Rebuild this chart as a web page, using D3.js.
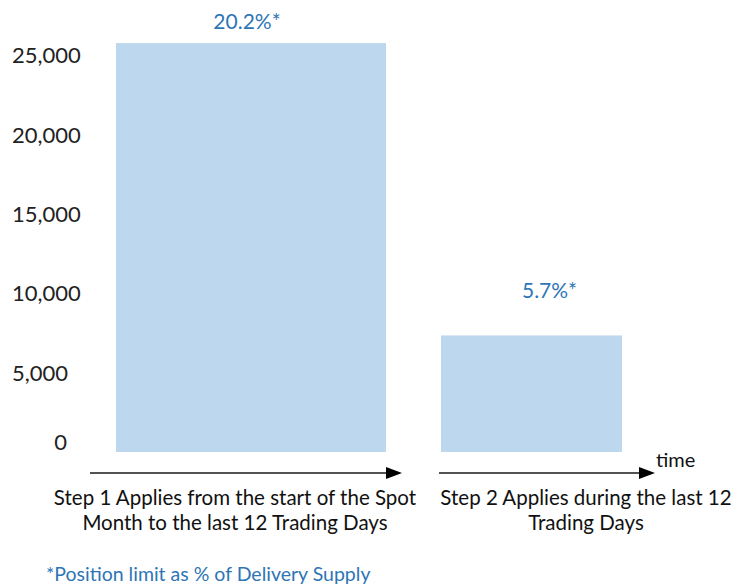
<!DOCTYPE html>
<html>
<head>
<meta charset="utf-8">
<script src="https://cdn.jsdelivr.net/npm/d3@7"></script>
<style>
  html, body { margin: 0; padding: 0; background: #fff; }
  svg { display: block; }
  text { font-family: Lato, "Open Sans", sans-serif; }
</style>
</head>
<body>
<div id="chart"></div>
<script>
// ---- data ----
const categories = [
  ["Step 1 Applies from the start of the Spot", "Month to the last 12 Trading Days"],
  ["Step 2 Applies during the last 12", "Trading Days"]
];
const values = [25750, 7340];
const pctLabels = ["20.2%*", "5.7%*"];
const yTicks = [0, 5000, 10000, 15000, 20000, 25000];
const footnote = "*Position limit as % of Delivery Supply";
const timeLabel = "time";

// ---- layout ----
const W = 736, H = 585;
const barSpans = [[116, 386], [441, 622]];      // pixel extents of bars (time segments)
const arrowSpans = [[90, 402], [439, 655]];
const arrowY = 473;
const catCenters = [235, 586];
const pctOffsets = [{dx: -4, dy: -14}, {dx: 18, dy: -37}];
const blue = "#2E75B6";
const barFill = "#BDD7EE";

const svg = d3.select("#chart").append("svg").attr("width", W).attr("height", H);

const y = d3.scaleLinear().domain([0, 25000]).range([452, 55]);
const x = d3.scaleLinear().domain([0, W]).range([0, W]);

// y axis labels (no line, no ticks)
const yAxis = d3.axisLeft(y).tickValues(yTicks).tickSize(0).tickFormat(d3.format(","));
const gy = svg.append("g").attr("transform", "translate(12,0)").call(yAxis);
gy.select(".domain").remove();
gy.selectAll(".tick text")
  .attr("text-anchor", "start")
  .attr("x", 0)
  .attr("dy", "0.35em")
  .style("font-family", "Lato, 'Open Sans', sans-serif")
  .style("font-size", "22px")
  .attr("fill", "#222");
gy.selectAll(".tick").filter(d => d === 0).select("text")
  .attr("text-anchor", "end").attr("x", 55).attr("dy", "-0.1em");

// bars
svg.selectAll("rect.bar").data(values).enter().append("rect")
  .attr("class", "bar")
  .attr("x", (d, i) => x(barSpans[i][0]))
  .attr("width", (d, i) => x(barSpans[i][1]) - x(barSpans[i][0]))
  .attr("y", d => y(d))
  .attr("height", d => y(0) - y(d))
  .attr("fill", barFill);

// percentage labels
svg.selectAll("text.pct").data(values).enter().append("text")
  .attr("class", "pct")
  .attr("x", (d, i) => (x(barSpans[i][0]) + x(barSpans[i][1])) / 2 + pctOffsets[i].dx)
  .attr("y", (d, i) => y(d) + pctOffsets[i].dy)
  .attr("text-anchor", "middle")
  .attr("fill", blue)
  .style("font-size", "21px")
  .text((d, i) => pctLabels[i]);

// arrows
arrowSpans.forEach((s) => {
  svg.append("line")
    .attr("x1", x(s[0])).attr("x2", x(s[1]) - 14)
    .attr("y1", arrowY).attr("y2", arrowY)
    .attr("stroke", "#1a1a1a").attr("stroke-width", 1.5);
  svg.append("path")
    .attr("d", `M${x(s[1])},${arrowY} L${x(s[1]) - 16},${arrowY - 6} L${x(s[1]) - 16},${arrowY + 6} Z`)
    .attr("fill", "#000");
});

svg.append("text")
  .attr("x", 656).attr("y", 467)
  .attr("fill", "#111")
  .style("font-size", "20px")
  .text(timeLabel);

// category labels
categories.forEach((lines, i) => {
  const t = svg.append("text")
    .attr("x", catCenters[i]).attr("y", 505)
    .attr("text-anchor", "middle")
    .attr("fill", "#111")
    .style("font-size", "20.5px");
  lines.forEach((ln, j) => {
    t.append("tspan").attr("x", catCenters[i]).attr("dy", j === 0 ? 0 : 25).text(ln);
  });
});

// footnote
svg.append("text")
  .attr("x", 46).attr("y", 581)
  .attr("fill", blue)
  .style("font-size", "19.5px")
  .text(footnote);
</script>
</body>
</html>
